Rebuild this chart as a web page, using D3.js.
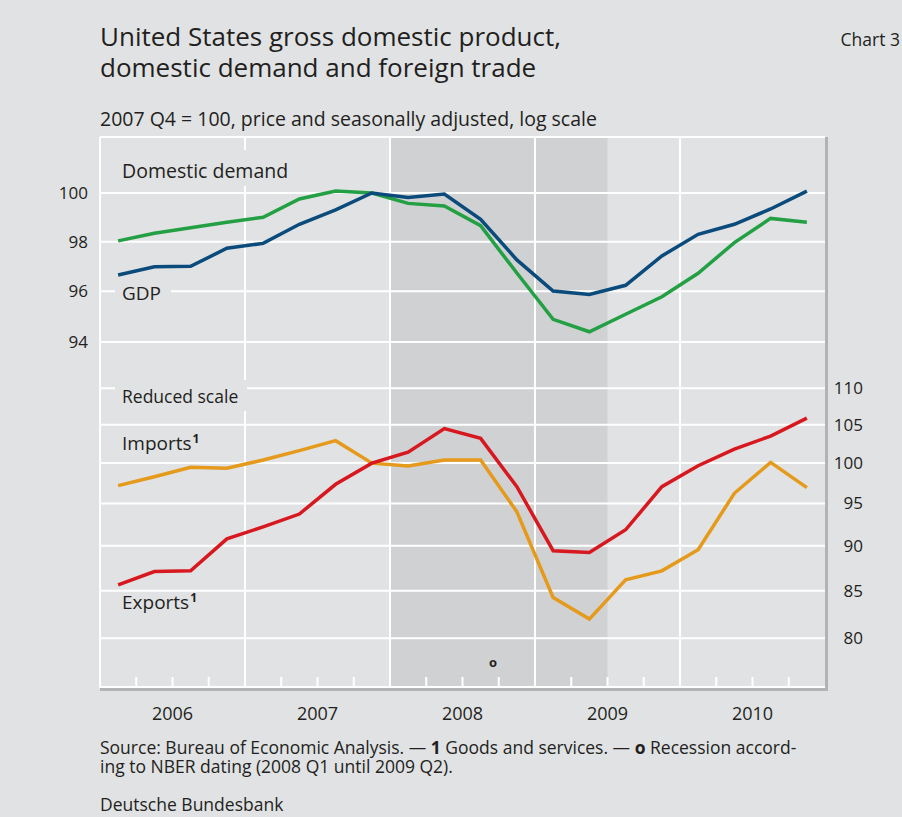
<!DOCTYPE html>
<html>
<head>
<meta charset="utf-8">
<script src="https://cdn.jsdelivr.net/npm/d3@7"></script>
<style>
  body { margin: 0; background: #e1e2e4; }
  svg { display: block; font-family: "Open Sans", "Noto Sans", sans-serif; }
</style>
</head>
<body>
<div id="chart"></div>
<script>
// quarters 2006 Q1 .. 2010 Q4
var quarters = d3.range(20).map(function(i) { return 2006 + Math.floor(i / 4) + ((i % 4) + 0.5) / 4; });
var years = [2006, 2007, 2008, 2009, 2010];

// upper panel (2007 Q4 = 100)
var gdp = [96.65, 96.98, 97.0, 97.73, 97.93, 98.71, 99.3, 100.0, 99.81, 99.96,
           98.91, 97.26, 96.01, 95.87, 96.24, 97.42, 98.3, 98.71, 99.34, 100.08];
var demand = [98.03, 98.34, 98.57, 98.79, 99.0, 99.75, 100.08, 100.0, 99.57, 99.46,
              98.65, 96.73, 94.89, 94.4, 95.09, 95.78, 96.72, 97.96, 98.95, 98.79];

// lower panel, reduced scale
var imports = [97.17, 98.28, 99.47, 99.34, 100.4, 101.6, 102.9, 100.0, 99.63, 100.4,
               100.4, 93.99, 84.27, 81.98, 86.18, 87.18, 89.56, 96.23, 100.1, 96.92];
var exportsS = [85.64, 87.1, 87.18, 90.8, 92.2, 93.72, 97.34, 100.0, 101.4, 104.5,
                103.2, 97.04, 89.44, 89.25, 91.86, 97.04, 99.67, 101.8, 103.5, 105.9];

var topTicks = [94, 96, 98, 100];
var bottomTicks = [80, 85, 90, 95, 100, 105, 110];
var recession = [2008, 2009.5];

var width = 902, height = 817;
var plotL = 100, plotR = 825, plotT = 137, plotB = 688;
var bg = "#e1e2e4";
var txt = "#231f20";

var svg = d3.select("#chart").append("svg")
    .attr("width", width)
    .attr("height", height);

svg.append("rect").attr("width", width).attr("height", height).attr("fill", bg);

var x = d3.scaleLinear().domain([2006, 2011]).range([plotL, plotR]);
var yTop = d3.scaleLog().domain([94, 100]).range([342, 193]);
var yBot = d3.scaleLog().domain([80, 110]).range([638.3, 388.3]);

// recession shading
svg.append("rect")
    .attr("x", x(recession[0]))
    .attr("y", plotT)
    .attr("width", x(recession[1]) - x(recession[0]))
    .attr("height", plotB - plotT)
    .attr("fill", "#d0d1d3");

var grid = svg.append("g").attr("stroke", "#fff").attr("stroke-width", 2);

// horizontal grid
grid.selectAll(".ht").data(topTicks).enter().append("line").attr("class", "ht")
    .attr("x1", plotL).attr("x2", plotR)
    .attr("y1", function(d) { return yTop(d); })
    .attr("y2", function(d) { return yTop(d); });
grid.selectAll(".hb").data(bottomTicks).enter().append("line").attr("class", "hb")
    .attr("x1", plotL).attr("x2", plotR)
    .attr("y1", function(d) { return yBot(d); })
    .attr("y2", function(d) { return yBot(d); });
grid.append("line").attr("x1", plotL).attr("x2", plotR).attr("y1", plotT).attr("y2", plotT);
grid.append("line").attr("x1", plotL).attr("x2", plotR).attr("y1", plotB - 1).attr("y2", plotB - 1);

// year lines
grid.selectAll(".v").data(years).enter().append("line").attr("class", "v")
    .attr("x1", function(d) { return x(d); })
    .attr("x2", function(d) { return x(d); })
    .attr("y1", plotT).attr("y2", plotB);

// quarter ticks
var qTicks = d3.range(2006, 2011, 0.25).filter(function(d) { return d % 1 !== 0; });
grid.selectAll(".q").data(qTicks).enter().append("line").attr("class", "q")
    .attr("x1", function(d) { return x(d); })
    .attr("x2", function(d) { return x(d); })
    .attr("y1", plotB - 11).attr("y2", plotB);

// shadow frame bottom / right
svg.append("line").attr("x1", plotL).attr("x2", plotR + 3)
    .attr("y1", plotB + 1.5).attr("y2", plotB + 1.5)
    .attr("stroke", "#b2b3b5").attr("stroke-width", 3);
svg.append("line").attr("x1", plotR + 1.5).attr("x2", plotR + 1.5)
    .attr("y1", plotT).attr("y2", plotB + 3)
    .attr("stroke", "#b2b3b5").attr("stroke-width", 3);

// label boxes which cut the grid
function box(x0, y0, w, h) {
  svg.append("rect").attr("x", x0).attr("y", y0).attr("width", w).attr("height", h).attr("fill", bg);
}
box(115, 150, 185, 36);
box(115, 281, 56, 24);
box(115, 380, 132, 31);

// lines
var line = function(y) {
  return d3.line()
      .x(function(d, i) { return x(quarters[i]); })
      .y(function(d) { return y(d); });
};
var series = [
  { data: demand, y: yTop, color: "#22a043" },
  { data: gdp, y: yTop, color: "#0a4b7c" },
  { data: imports, y: yBot, color: "#e59a1b" },
  { data: exportsS, y: yBot, color: "#d7181f" }
];
svg.selectAll(".series").data(series).enter().append("path").attr("class", "series")
    .attr("fill", "none")
    .attr("stroke", function(d) { return d.color; })
    .attr("stroke-width", 3.5)
    .attr("d", function(d) { return line(d.y)(d.data); });

// axis labels
svg.selectAll(".lt").data(topTicks).enter().append("text").attr("class", "lt")
    .attr("x", 88).attr("y", function(d) { return yTop(d) + 6; })
    .attr("text-anchor", "end").attr("font-size", 17).attr("fill", txt)
    .text(function(d) { return d; });
svg.selectAll(".rt").data(bottomTicks).enter().append("text").attr("class", "rt")
    .attr("x", 863).attr("y", function(d) { return yBot(d) + 6; })
    .attr("text-anchor", "end").attr("font-size", 17).attr("fill", txt)
    .text(function(d) { return d; });
svg.selectAll(".yr").data(years).enter().append("text").attr("class", "yr")
    .attr("x", function(d) { return x(d + 0.5); }).attr("y", 720)
    .attr("text-anchor", "middle").attr("font-size", 18).attr("fill", txt)
    .text(function(d) { return d; });

// series labels
function label(s, x0, y0, size, sup) {
  var t = svg.append("text").attr("x", x0).attr("y", y0)
      .attr("font-size", size).attr("fill", txt).text(s);
  if (sup) {
    t.append("tspan").attr("dx", 1).attr("dy", -7)
        .attr("font-size", 12).attr("font-weight", "bold").text(sup);
  }
}
label("Domestic demand", 122, 178, 19.5);
label("GDP", 122, 300, 19);
label("Reduced scale", 122, 403, 17.5);
label("Imports", 122, 450, 19, "1");
label("Exports", 122, 609, 19, "1");

svg.append("text").attr("x", 493).attr("y", 667).attr("text-anchor", "middle")
    .attr("font-size", 13).attr("font-weight", "bold").attr("fill", txt).text("o");

// titles
var title = svg.append("text").attr("font-size", 26).attr("fill", txt);
title.append("tspan").attr("x", 100).attr("y", 46).text("United States gross domestic product,");
title.append("tspan").attr("x", 100).attr("y", 77).text("domestic demand and foreign trade");
svg.append("text").attr("x", 900).attr("y", 46).attr("text-anchor", "end")
    .attr("font-size", 17.5).attr("fill", txt).text("Chart 3");
svg.append("text").attr("x", 100).attr("y", 126).attr("font-size", 19.5).attr("fill", txt)
    .text("2007 Q4 = 100, price and seasonally adjusted, log scale");

// footer
var foot = svg.append("text").attr("font-size", 17.5).attr("fill", txt);
foot.append("tspan").attr("x", 100).attr("y", 753.5).text("Source: Bureau of Economic Analysis. — ");
foot.append("tspan").attr("font-weight", "bold").text("1");
foot.append("tspan").text(" Goods and services. — ");
foot.append("tspan").attr("font-weight", "bold").text("o");
foot.append("tspan").text(" Recession accord-");
foot.append("tspan").attr("x", 100).attr("y", 773).text("ing to NBER dating (2008 Q1 until 2009 Q2).");
svg.append("text").attr("x", 100).attr("y", 811).attr("font-size", 17.5).attr("fill", txt)
    .text("Deutsche Bundesbank");
</script>
</body>
</html>
